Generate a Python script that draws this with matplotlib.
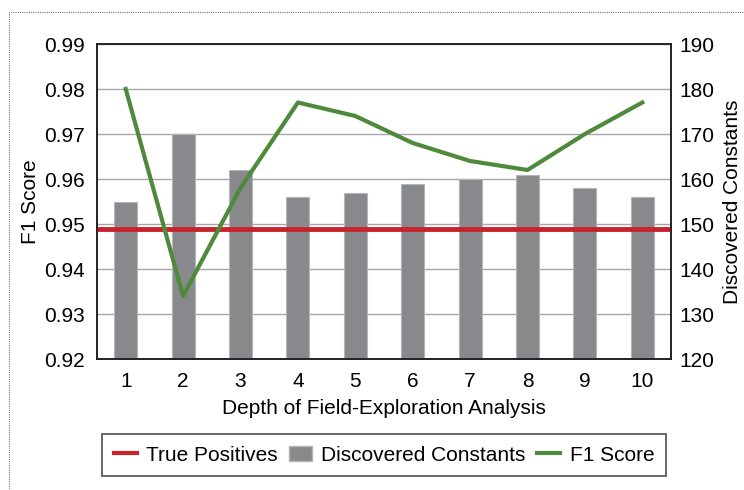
import numpy as np
import matplotlib.pyplot as plt
from matplotlib.patches import Rectangle, Patch
from matplotlib.lines import Line2D

plt.rcParams['font.family'] = ['Liberation Sans', 'DejaVu Sans']

# -----------------------------
# Data
# -----------------------------
depth = [1, 2, 3, 4, 5, 6, 7, 8, 9, 10]
discovered = [155, 170, 162, 156, 157, 159, 160, 161, 158, 156]
f1_score = [0.980, 0.934, 0.958, 0.977, 0.974, 0.968, 0.964, 0.962, 0.970, 0.977]
true_positives = 0.949

bar_color = '#88898c'
green = '#4f8a3c'
red = '#c8232c'
fs = 15

fig = plt.figure(figsize=(7.44, 4.90), dpi=100)
fig.subplots_adjust(left=97/744, right=671/744, top=1-44/490, bottom=1-359/490)
ax = fig.add_subplot(111)
ax2 = ax.twinx()

# bars on the right axis, underneath
ax2.bar(depth, discovered, width=0.4, color=bar_color, edgecolor='#b4b5b7',
        linewidth=0.8, zorder=2)
ax2.set_ylim(120, 190)
ax2.set_yticks(np.arange(120, 191, 10))
ax2.yaxis.grid(True, color='#a6a6a6', linewidth=1.0, zorder=0)
ax2.set_axisbelow(True)
ax2.set_ylabel('Discovered Constants', fontsize=fs, labelpad=6)

# lines on the left axis, on top
ax.set_zorder(ax2.get_zorder() + 1)
ax.patch.set_visible(False)
ax.axhline(true_positives, color=red, linewidth=3.5)
ax.plot(depth, f1_score, color=green, linewidth=3)
ax.set_ylim(0.92, 0.99)
ax.set_yticks(np.arange(0.92, 0.991, 0.01))
ax.set_yticklabels([f'{v:.2f}' for v in np.arange(0.92, 0.991, 0.01)])
ax.set_xlim(0.5, 10.5)
ax.set_xticks(depth)
ax.set_ylabel('F1 Score', fontsize=fs, labelpad=3)
ax.set_xlabel('Depth of Field-Exploration Analysis', fontsize=fs, labelpad=6)

ax.tick_params(length=0, labelsize=fs, pad=9)
ax2.tick_params(length=0, labelsize=fs, pad=6)
for a in (ax, ax2):
    for s in a.spines.values():
        s.set_color('#222222')
        s.set_linewidth(1.2)

handles = [
    Line2D([], [], color=red, linewidth=3),
    Patch(facecolor=bar_color, edgecolor='#b4b5b7'),
    Line2D([], [], color=green, linewidth=3),
]
labels = ['True Positives', 'Discovered Constants', 'F1 Score']
leg = fig.legend(handles, labels, loc='center', bbox_to_anchor=(384/744, 1-455/490),
                 ncol=3, fontsize=fs, frameon=True, fancybox=False,
                 handlelength=1.1, handletextpad=0.45, columnspacing=0.55,
                 borderpad=0.55, borderaxespad=0)
leg.get_frame().set_edgecolor('#222222')
leg.get_frame().set_linewidth(1.2)

# dotted outer border
fig.patches.append(Rectangle((9/744, -0.1), 1.2, 1 - 12/490 + 0.1,
                             transform=fig.transFigure, fill=False,
                             edgecolor='#777777', linestyle=(0, (1, 1)),
                             linewidth=0.8))

fig.savefig('out.png', dpi=100)
